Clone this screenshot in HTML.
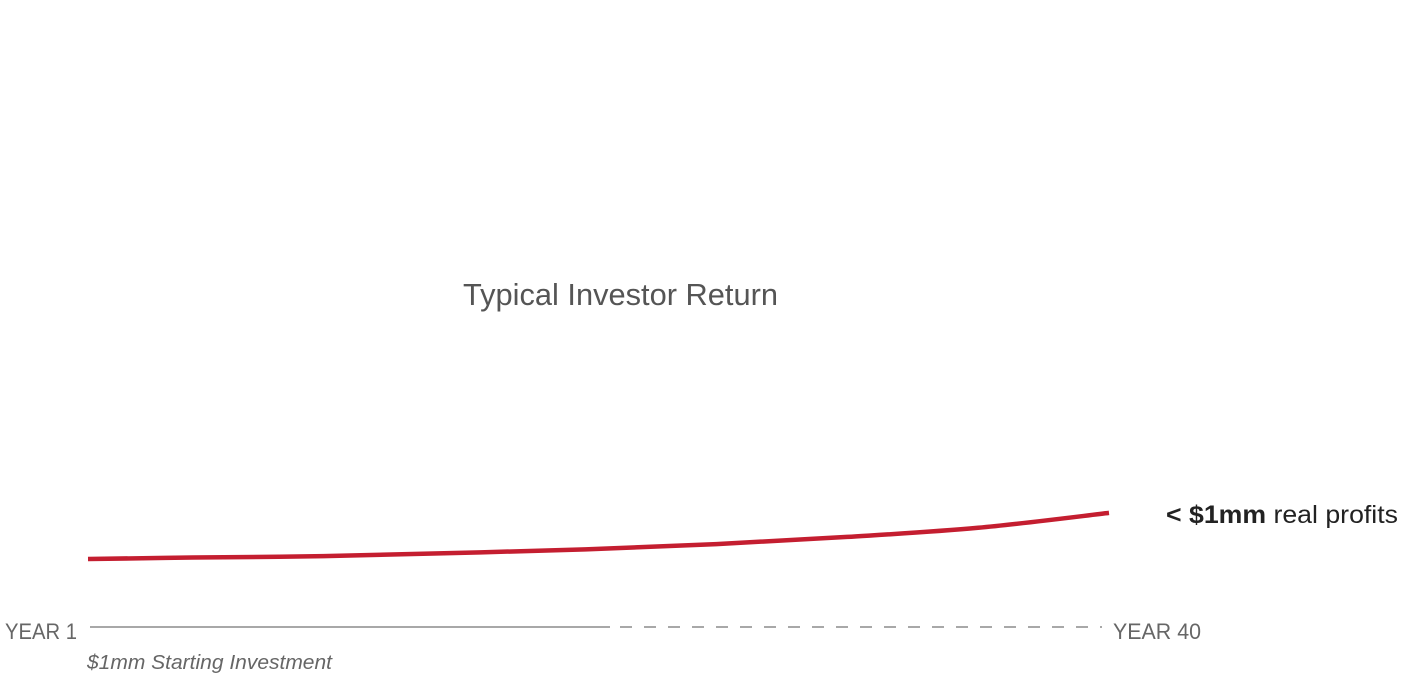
<!DOCTYPE html>
<html><head><meta charset="utf-8"><style>
html,body{margin:0;padding:0;background:#fff;width:1418px;height:682px;overflow:hidden;font-family:"Liberation Sans",sans-serif}
</style></head><body>
<svg id="chart" width="1418" height="682" viewBox="0 0 1418 682">
<text x="463" y="305" font-size="31" fill="#555" font-family="Liberation Sans, sans-serif" textLength="315" lengthAdjust="spacingAndGlyphs">Typical Investor Return</text>
<line x1="90" y1="627" x2="610" y2="627" stroke="#a8a8a8" stroke-width="2"/>
<line x1="620" y1="627" x2="1102" y2="627" stroke="#a8a8a8" stroke-width="2" stroke-dasharray="12,12"/>
<text x="5" y="639" font-size="22" fill="#666" textLength="72" lengthAdjust="spacingAndGlyphs">YEAR 1</text>
<text x="1113" y="639" font-size="22" fill="#666" textLength="88" lengthAdjust="spacingAndGlyphs">YEAR 40</text>
<text x="87" y="669" font-size="20" font-style="italic" fill="#666" textLength="245" lengthAdjust="spacingAndGlyphs">$1mm Starting Investment</text>
<text x="1166" y="523" font-size="25" fill="#222" textLength="232" lengthAdjust="spacingAndGlyphs"><tspan font-weight="bold">&lt; $1mm</tspan> real profits</text>
<path id="series" fill="none" stroke="#c41e30" stroke-width="4.5" stroke-linecap="butt"/>
</svg>
<script>
const years = [1, 5, 10, 15, 20, 25, 30, 35, 40];
const profits = [0, 0.03, 0.06, 0.125, 0.2, 0.31, 0.46, 0.65, 0.96];
function xScale(yr){ return 88 + (yr - 1) * (1109 - 88) / 39; }
function yScale(v){ return 559 - v * 48; }
const pts = years.map((yr, i) => [xScale(yr), yScale(profits[i])]);
let d = "M" + pts[0][0] + "," + pts[0][1];
for (let i = 0; i < pts.length - 1; i++) {
  const p0 = pts[Math.max(0, i - 1)], p1 = pts[i], p2 = pts[i + 1], p3 = pts[Math.min(pts.length - 1, i + 2)];
  const c1x = p1[0] + (p2[0] - p0[0]) / 6, c1y = p1[1] + (p2[1] - p0[1]) / 6;
  const c2x = p2[0] - (p3[0] - p1[0]) / 6, c2y = p2[1] - (p3[1] - p1[1]) / 6;
  d += " C" + c1x + "," + c1y + " " + c2x + "," + c2y + " " + p2[0] + "," + p2[1];
}
document.getElementById("series").setAttribute("d", d);
</script>
</body></html>
